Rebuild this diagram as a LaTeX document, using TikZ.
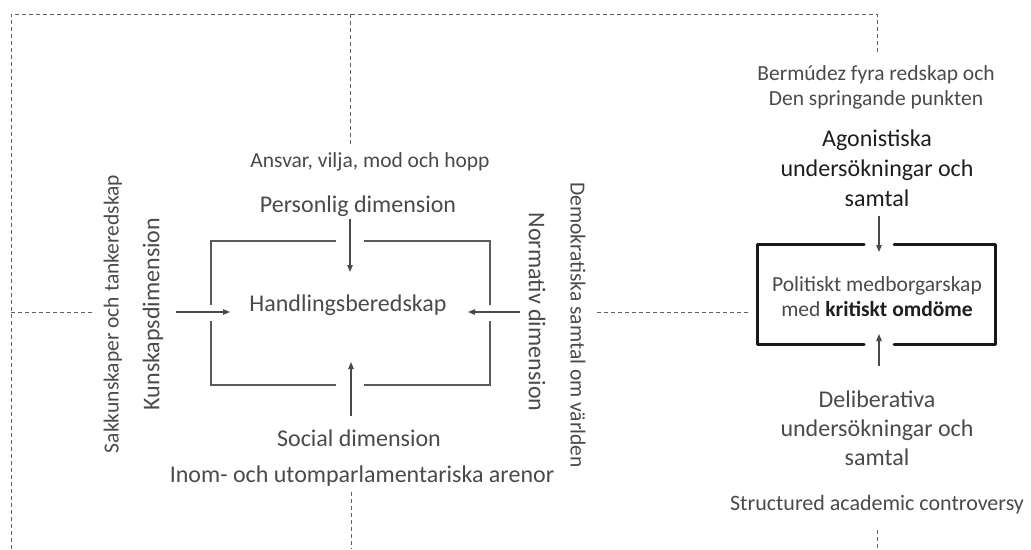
\documentclass[tikz,border=0pt]{standalone}
\usepackage{fontspec}
\setmainfont{Carlito}
\usetikzlibrary{arrows.meta}
\definecolor{txt}{HTML}{4A4A4A}
\definecolor{dark}{HTML}{1E1E1E}
\definecolor{linec}{HTML}{5A5A5A}
\definecolor{dashc}{HTML}{606060}
\begin{document}
\begin{tikzpicture}[x=1pt,y=-1pt,
  big/.style={text=txt,inner sep=0pt,font=\fontsize{24}{29}\selectfont,align=center},
  sm/.style={text=txt,inner sep=0pt,font=\fontsize{21.5}{25}\selectfont,align=center},
  strong/.style={text=dark,inner sep=0pt,font=\fontsize{24}{30}\selectfont,align=center},
  dsh/.style={draw=dashc,line width=0.9pt,dash pattern=on 4pt off 3pt},
  thinbox/.style={draw=linec,line width=1.2pt},
  thickbox/.style={draw=black!90,line width=3pt,line cap=round,line join=round},
  arr/.style={draw=txt,line width=1.1pt,-{Triangle[length=7pt,width=5.5pt]}}]
\useasboundingbox (0,0) rectangle (1031,549);

% ---------- text nodes ----------
\node[sm]  (ansvar) at (370,162) {Ansvar, vilja, mod och hopp};
\node[big] (pers)   at (358,206) {Personlig dimension};
\node[big] (hand)   at (348,305) {Handlingsberedskap};
\node[big] (soc)    at (359,438) {Social dimension};
\node[big] (inom)   at (362,476) {Inom- och utomparlamentariska arenor};
\node[sm, rotate=90]  (sak)  at (113,314) {Sakkunskaper och tankeredskap};
\node[big,rotate=90]  (kun)  at (153,314) {Kunskapsdimension};
\node[big,rotate=-90] (norm) at (537,312) {Normativ dimension};
\node[sm, rotate=-90] (demo) at (578,325) {Demokratiska samtal om världen};

\node[sm]     (berm) at (876,87)  {Bermúdez fyra redskap och\\Den springande punkten};
\node[strong] (agon) at (877,168) {Agonistiska\\undersökningar och\\samtal};
\node[sm]     (pol)  at (877,297) {Politiskt medborgarskap\\med \textbf{\color{dark}kritiskt omdöme}};
\node[big]    (delib) at (877,428) {Deliberativa\\undersökningar och\\samtal};
\node[sm,font=\fontsize{22}{26}\selectfont] (sac) at (877,505) {Structured academic controversy};

% ---------- coordinates ----------
\coordinate (tl) at (11,14);
\coordinate (tr) at (877,14);
\coordinate (bl) at (11,549);
\coordinate (tm) at (350,14);
\coordinate (lm) at (11,312);
\coordinate (bm) at (351,549);
\coordinate (br) at (877,549);

% dashed frame
\draw[dsh] (bl) -- (tl) -- (tr) -- (877,52);
\draw[dsh] (tm) -- (350,147);
\draw[dsh] (lm) -- (95,312);
\draw[dsh] (351,492) -- (bm);
\draw[dsh] (597,312) -- (748,312);
\draw[dsh] (877,530) -- (br);

% inner box with gaps
\draw[thinbox] (336,241) -- (211,241) -- (211,305);
\draw[thinbox] (211,321) -- (211,385) -- (336,385);
\draw[thinbox] (364,385) -- (490,385) -- (490,321);
\draw[thinbox] (490,305) -- (490,241) -- (364,241);

% arrows into Handlingsberedskap
\draw[arr] (350,219) -- (350,272);
\draw[arr] (176,312) -- (230,312);
\draw[arr] (520,312) -- (468,312);
\draw[arr] (351,416) -- (351,362);

% right thick box
\draw[thickbox] (864,244) -- (757,244) -- (757,344) -- (864,344);
\draw[thickbox] (894,244) -- (995,244) -- (995,344) -- (894,344);
\draw[arr] (879,216) -- (879,252);
\draw[arr] (879,366) -- (879,334);
\end{tikzpicture}
\end{document}
